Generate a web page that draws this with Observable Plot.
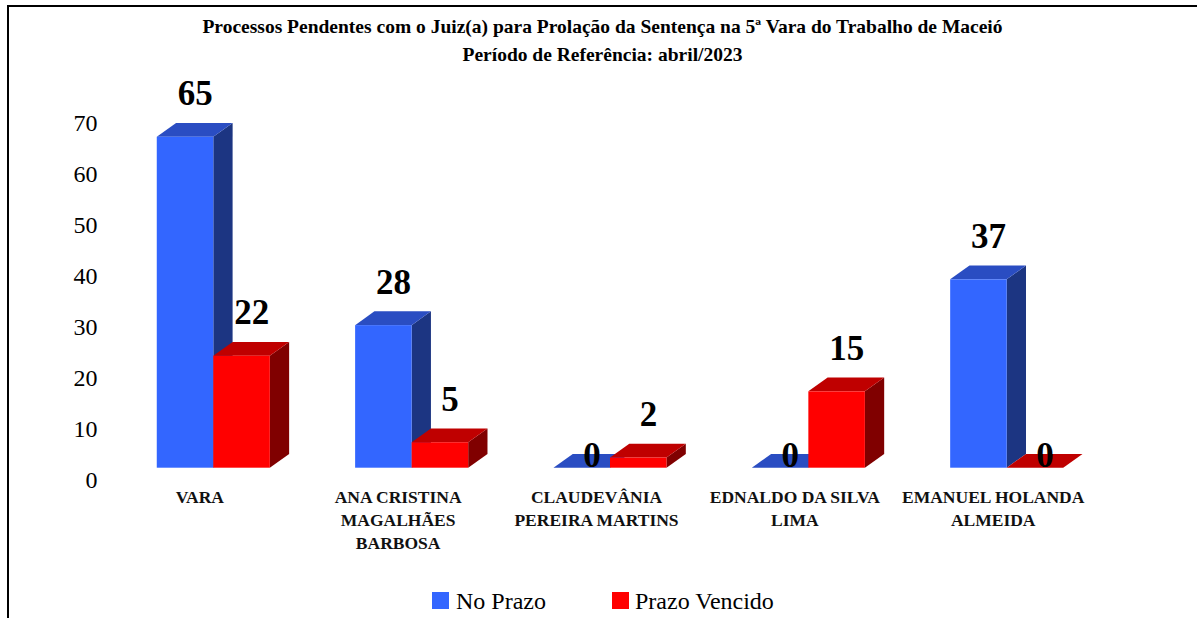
<!DOCTYPE html>
<html><head><meta charset="utf-8">
<script src="https://cdn.jsdelivr.net/npm/d3@7"></script>
<script src="https://cdn.jsdelivr.net/npm/@observablehq/plot@0.6"></script>
<style>
body{margin:0;background:#fff;font-family:"Liberation Serif","Times New Roman",serif;}
#wrap{position:relative;width:1197px;height:618px;overflow:hidden;}
#frame{position:absolute;left:6.5px;top:4.5px;right:-10px;bottom:-10px;border-top:2px solid #000;border-left:2px solid #000;}
#title{position:absolute;left:4px;top:13px;width:1197px;text-align:center;font-weight:bold;font-size:19.5px;line-height:28px;color:#000;}
#chart{position:absolute;left:0;top:70px;}
.sw{position:absolute;width:17px;height:17px;}
.lt{position:absolute;font-size:24px;line-height:24px;color:#000;white-space:nowrap;}
</style></head>
<body>
<div id="wrap">
  <div id="frame"></div>
  <div id="title"></div>
  <div id="chart"></div>
  <div id="legend"></div>
</div>
<script>
const titleLines = ["Processos Pendentes com o Juiz(a) para Prolação da Sentença na 5ª Vara do Trabalho de Maceió", "Período de Referência: abril/2023"];
const categories = ["VARA", "ANA CRISTINA MAGALHÃES BARBOSA", "CLAUDEVÂNIA PEREIRA MARTINS", "EDNALDO DA SILVA LIMA", "EMANUEL HOLANDA ALMEIDA"];
const categoryLabels = ["VARA", "ANA CRISTINA\nMAGALHÃES\nBARBOSA", "CLAUDEVÂNIA\nPEREIRA MARTINS", "EDNALDO DA SILVA\nLIMA", "EMANUEL HOLANDA\nALMEIDA"];
const seriesNames = ["No Prazo", "Prazo Vencido"];
const noPrazo = [65, 28, 0, 0, 37];
const prazoVencido = [22, 5, 2, 15, 0];
const yTicks = [0, 10, 20, 30, 40, 50, 60, 70];

const colors = [
  {front: "#3366FF", top: "#2A4DC2", side: "#1C3582"},
  {front: "#FF0000", top: "#BF0000", side: "#800000"}
];
const W = 0.285, DX = 0.0973, DY = 2.71;
const serif = "'Liberation Serif','Times New Roman',serif";

document.getElementById("title").innerHTML = titleLines.join("<br>");

const seriesValues = [noPrazo, prazoVencido];
const bars = [];
seriesValues.forEach((vals, s) => {
  vals.forEach((v, i) => {
    const x0 = i - W + s * W;
    bars.push({s, i, cat: categories[i], x0, x1: x0 + W, v, id: s + "-" + i});
  });
});

const marks = [];
[0, 1].forEach(s => {
  const b = bars.filter(d => d.s === s);
  const side = b.flatMap(d => [
    {z: d.id, x: d.x1, y1: 0, y2: d.v},
    {z: d.id, x: d.x1 + DX, y1: DY, y2: d.v + DY}
  ]);
  const top = b.flatMap(d => [
    {z: d.id, y: d.v, x1: d.x0, x2: d.x1},
    {z: d.id, y: d.v + DY, x1: d.x0 + DX, x2: d.x1 + DX}
  ]);
  marks.push(Plot.areaY(side, {x: "x", y1: "y1", y2: "y2", z: "z", fill: colors[s].side}));
  marks.push(Plot.areaX(top, {y: "y", x1: "x1", x2: "x2", z: "z", fill: colors[s].top}));
  marks.push(Plot.rect(b, {x1: "x0", x2: "x1", y1: 0, y2: "v", fill: colors[s].front}));
});

const labelX = d => (d.x0 + d.x1) / 2 + DX / 2;
marks.push(Plot.text(bars.filter(d => d.v > 0), {x: labelX, y: "v", text: d => String(d.v), dy: -43, fontSize: 35, fontWeight: "bold", fill: "#000", fontFamily: serif}));
marks.push(Plot.text(bars.filter(d => d.v === 0), {x: labelX, y: "v", text: d => String(d.v), dy: -12, fontSize: 35, fontWeight: "bold", fill: "#000", fontFamily: serif}));
marks.push(Plot.text(categoryLabels.map((t, i) => ({t, i})), {x: "i", y: 0, text: "t", dx: -14, dy: 19, lineAnchor: "top", lineHeight: 1.3, fontSize: 17.5, fontWeight: "bold", fill: "#111", fontFamily: serif}));
marks.push(Plot.axisY(yTicks, {tickSize: 0, tickPadding: 3, dy: 12, fontSize: 24, label: null, fill: "#000", fontFamily: serif}));

const chart = Plot.plot({
  width: 1197, height: 490,
  marginLeft: 100, marginRight: 0, marginTop: 0, marginBottom: 0,
  style: {fontFamily: serif, background: "transparent", overflow: "visible"},
  x: {type: "linear", domain: [0, 4], range: [213.3, 1006.7], axis: null},
  y: {domain: [0, 70], range: [397.7, 41.3], axis: null},
  marks
});
document.getElementById("chart").appendChild(chart);

const legend = document.getElementById("legend");
const legItems = [{sw: 432, tx: 456}, {sw: 612, tx: 635}];
seriesNames.forEach((n, s) => {
  const sq = document.createElement("div");
  sq.className = "sw"; sq.style.left = legItems[s].sw + "px"; sq.style.top = "592px"; sq.style.background = colors[s].front;
  const tx = document.createElement("div");
  tx.className = "lt"; tx.style.left = legItems[s].tx + "px"; tx.style.top = "589px"; tx.textContent = n;
  legend.appendChild(sq); legend.appendChild(tx);
});
</script>
</body></html>
